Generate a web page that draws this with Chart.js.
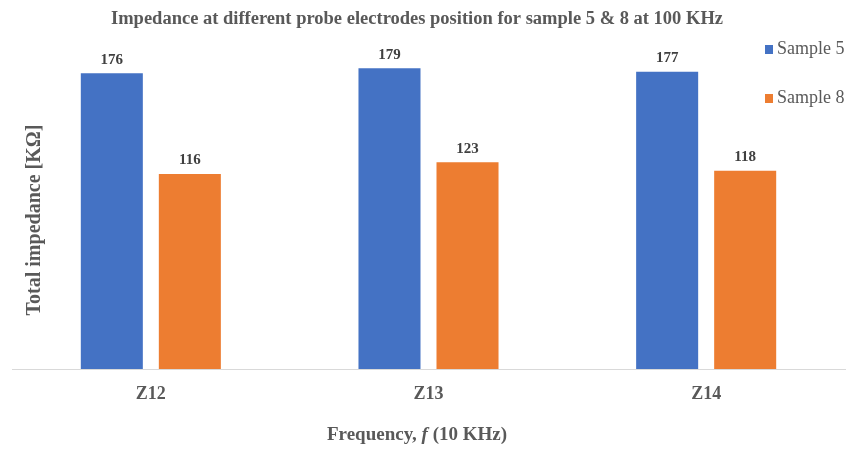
<!DOCTYPE html>
<html>
<head>
<meta charset="utf-8">
<script src="https://cdn.jsdelivr.net/npm/chart.js@4.4.1/dist/chart.umd.min.js"></script>
<style>
  html, body { margin: 0; padding: 0; background: #fff; }
  #wrap { width: 850px; height: 449px; }
</style>
</head>
<body>
<div id="wrap"><canvas id="grafico"></canvas></div>
<script>
const categorias = ["Z12", "Z13", "Z14"];
const sample5 = [176, 179, 177];
const sample8 = [116, 123, 118];
const nomesSeries = ["Sample 5", "Sample 8"];
const titulo = "Impedance at different probe electrodes position for sample 5 & 8 at 100 KHz";

const corTexto = "#595959";
const fonteSerif = "'Liberation Serif', 'Times New Roman', serif";

// rótulos de valor acima das barras
const rotulosPlugin = {
  id: "rotulos",
  afterDatasetsDraw(chart) {
    const ctx = chart.ctx;
    ctx.save();
    ctx.font = "bold 15px " + fonteSerif;
    ctx.fillStyle = "#404040";
    ctx.textAlign = "center";
    ctx.textBaseline = "bottom";
    chart.data.datasets.forEach((ds, i) => {
      chart.getDatasetMeta(i).data.forEach((bar, j) => {
        ctx.fillText(ds.data[j], bar.x, bar.y - 6);
      });
    });
    ctx.restore();
  },
};

// título, títulos dos eixos e legenda
const extrasPlugin = {
  id: "extras",
  afterDraw(chart) {
    const ctx = chart.ctx;
    ctx.save();
    ctx.fillStyle = corTexto;
    ctx.textAlign = "center";
    ctx.textBaseline = "middle";

    ctx.font = "bold 18.5px " + fonteSerif;
    ctx.fillText(titulo, 417, 19);

    // título do eixo y (dentro da área, como no original)
    ctx.font = "bold 20px " + fonteSerif;
    ctx.translate(35, 220);
    ctx.rotate(-Math.PI / 2);
    ctx.fillText("Total impedance [KΩ]", 0, 0);
    ctx.restore();

    // título do eixo x com f em itálico
    ctx.save();
    ctx.fillStyle = corTexto;
    ctx.textBaseline = "middle";
    const partes = [
      ["bold 19px " + fonteSerif, "Frequency, "],
      ["bold italic 19px " + fonteSerif, "f"],
      ["bold 19px " + fonteSerif, " (10 KHz)"],
    ];
    let total = 0;
    for (const p of partes) {
      ctx.font = p[0];
      total += ctx.measureText(p[1]).width;
    }
    let x = 417 - total / 2;
    for (const p of partes) {
      ctx.font = p[0];
      ctx.fillText(p[1], x, 435);
      x += ctx.measureText(p[1]).width;
    }

    // legenda
    ctx.font = "18px " + fonteSerif;
    const ys = [49, 98];
    chart.data.datasets.forEach((ds, i) => {
      ctx.fillStyle = ds.backgroundColor;
      ctx.fillRect(765, ys[i] - 4, 8, 9);
      ctx.fillStyle = corTexto;
      ctx.textAlign = "left";
      ctx.fillText(ds.label, 777, ys[i]);
    });
    ctx.restore();
  },
};

let grafico = new Chart(document.getElementById("grafico"), {
  type: "bar",
  data: {
    labels: categorias,
    datasets: [
      {
        label: nomesSeries[0],
        data: sample5,
        backgroundColor: "#4472C4",
      },
      {
        label: nomesSeries[1],
        data: sample8,
        backgroundColor: "#ED7D31",
      },
    ],
  },
  options: {
    responsive: true,
    maintainAspectRatio: false,
    animation: false,
    categoryPercentage: 0.562,
    barPercentage: 0.795,
    layout: {
      padding: { left: 12, right: 5, top: 33, bottom: 0 },
    },
    plugins: {
      legend: { display: false },
      tooltip: { enabled: false },
      title: { display: false },
    },
    scales: {
      x: {
        grid: { display: false, drawTicks: false },
        border: { color: "#d9d9d9", width: 1 },
        ticks: {
          color: corTexto,
          font: { family: fonteSerif, size: 18, weight: "bold" },
          padding: 15,
        },
        afterFit(scale) {
          scale.height = 80;
        },
      },
      y: {
        display: false,
        min: 0,
        max: 200,
      },
    },
  },
  plugins: [rotulosPlugin, extrasPlugin],
});
</script>
</body>
</html>
